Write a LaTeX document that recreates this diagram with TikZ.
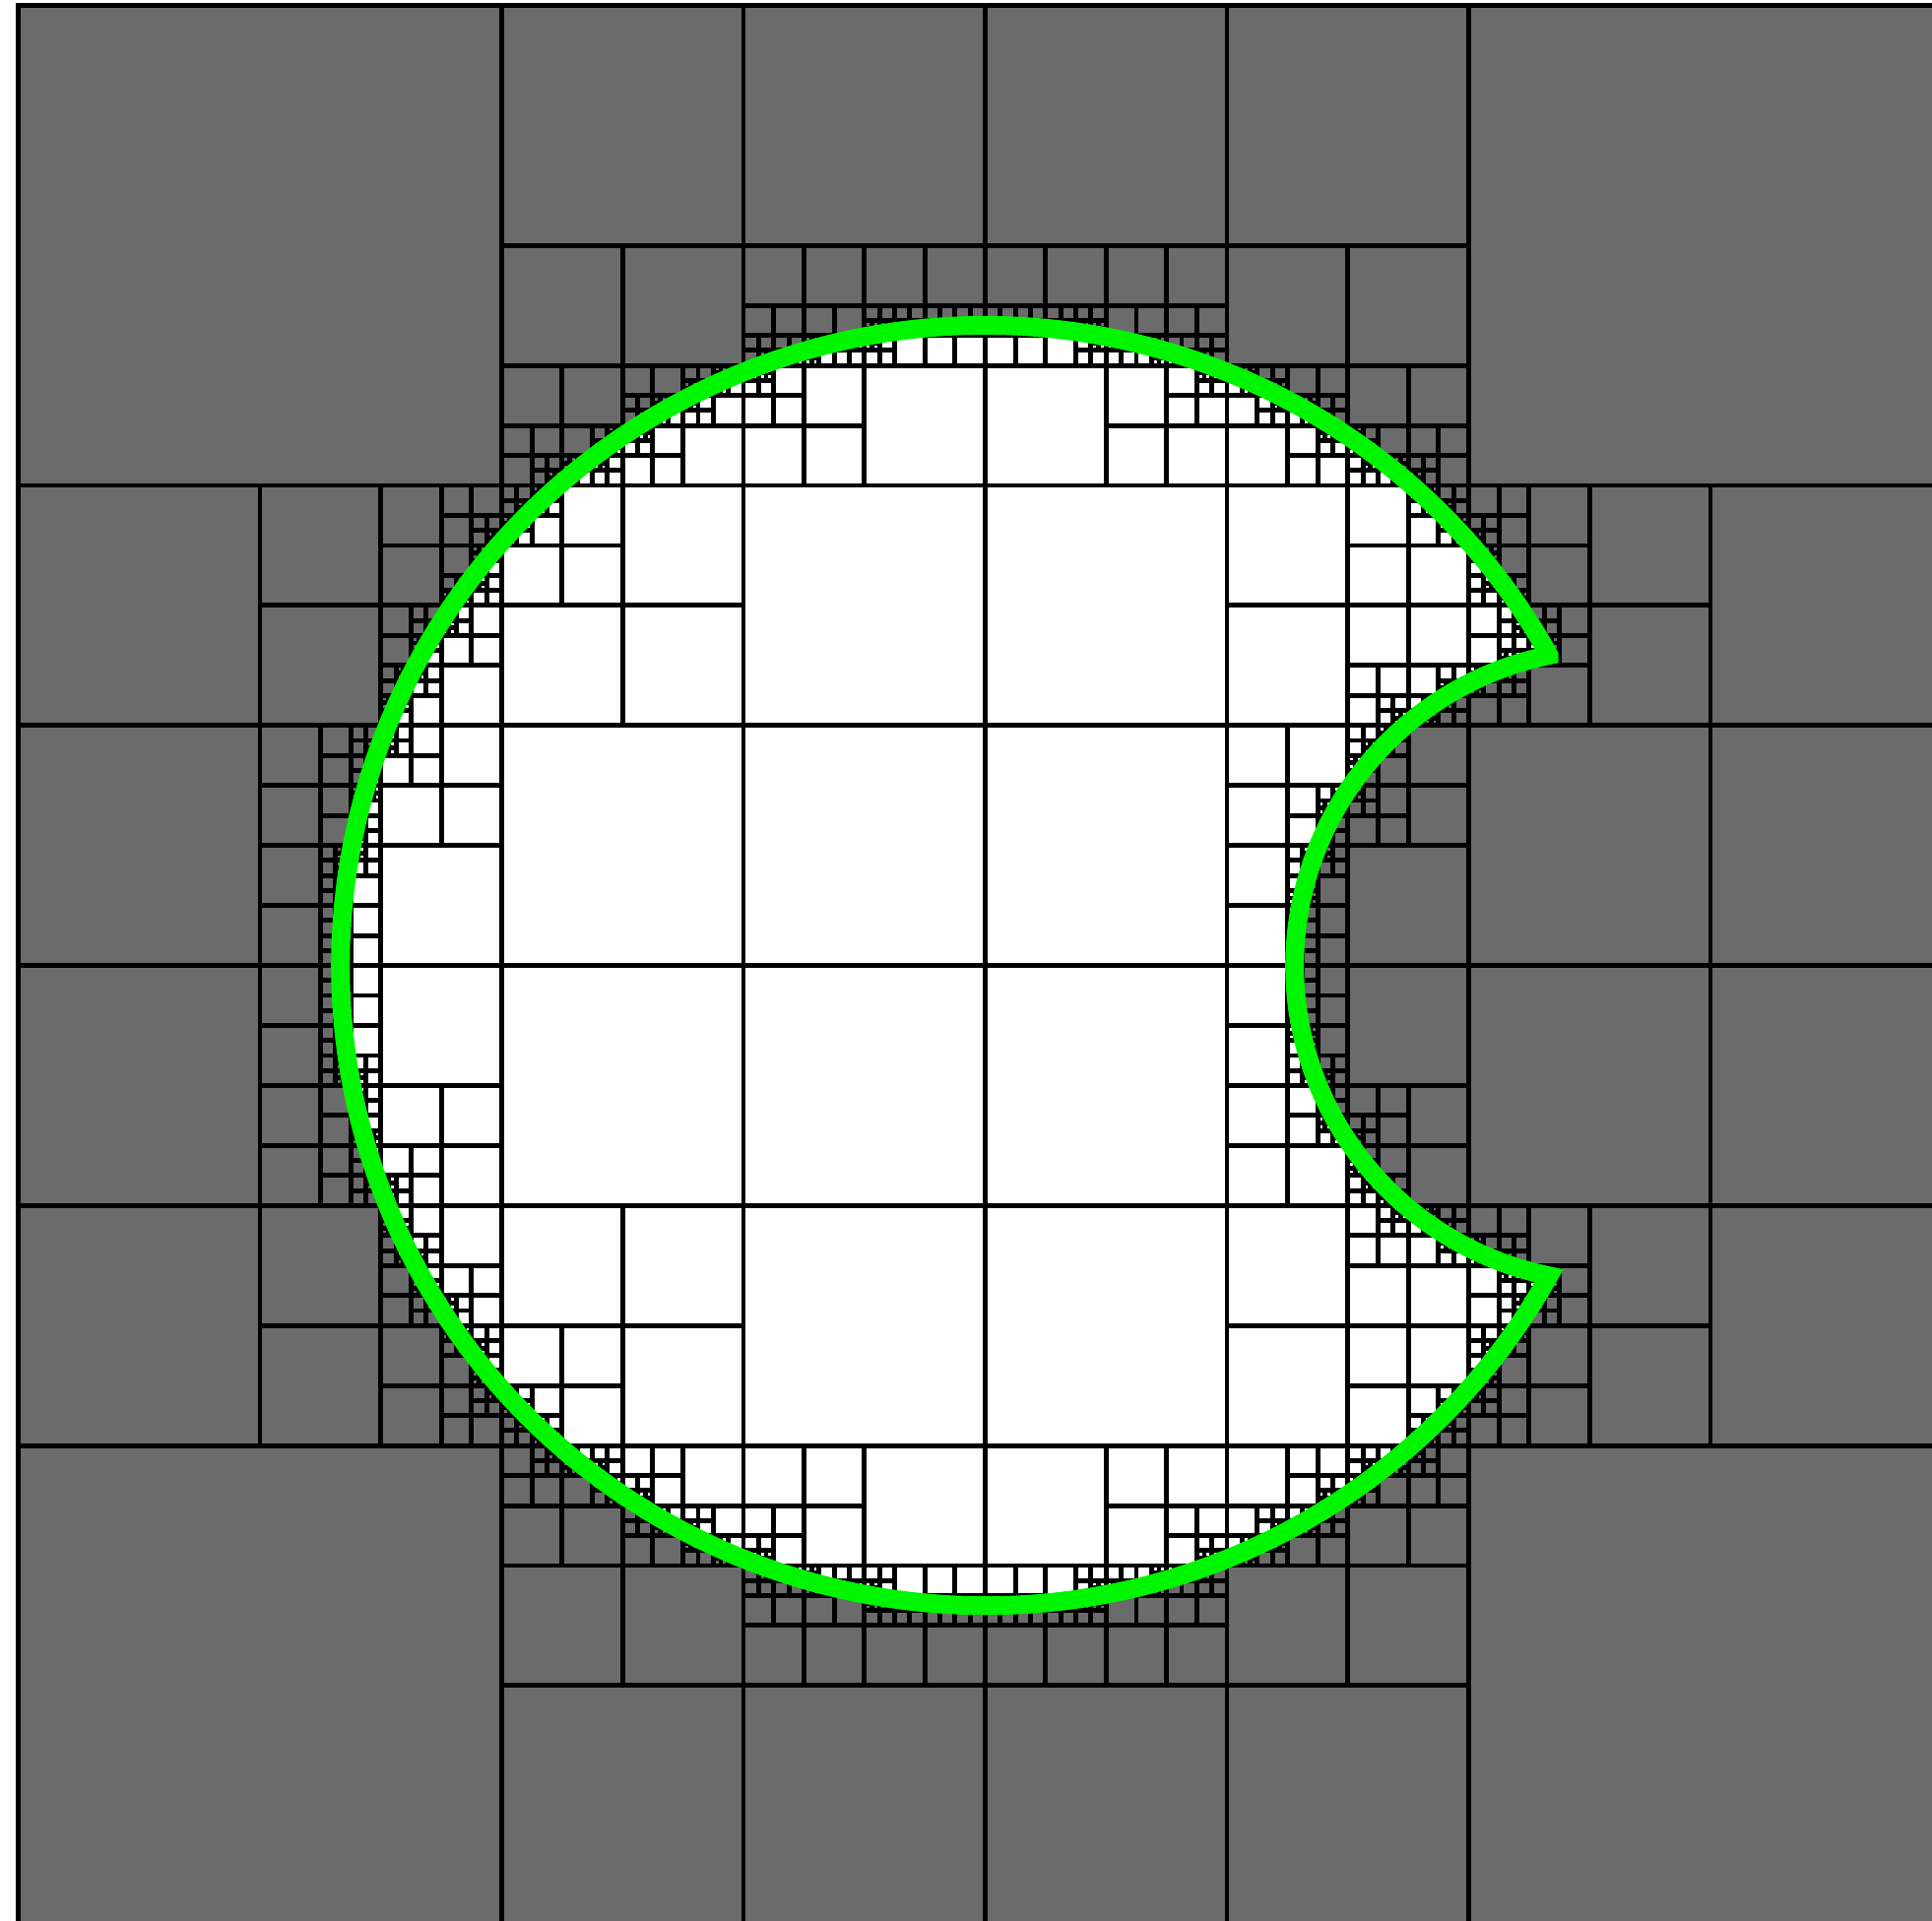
\documentclass[tikz,border=0pt]{standalone}
\newcommand{\MAXD}{8}
\newcommand{\CAX}{50}   \newcommand{\CAY}{50}  \newcommand{\RA}{33.3333}  \newcommand{\RAsq}{1111.111}
\newcommand{\CBX}{82.5} \newcommand{\CBY}{50}  \newcommand{\RB}{16.5}     \newcommand{\RBsq}{272.25}
\newcommand{\TA}{29.0}
\newcommand{\TB}{101.695}
\definecolor{qtgray}{RGB}{107,107,107}
\definecolor{qtgreen}{RGB}{0,245,0}

% one cell of the tree: x0, y0, size, depth
\newcommand{\qcell}[4]{%
  \begingroup
  \pgfmathsetmacro\qxa{#1}\pgfmathsetmacro\qya{#2}%
  \pgfmathsetmacro\qxb{#1+#3}\pgfmathsetmacro\qyb{#2+#3}%
  \ifnum#4<\MAXD\relax
    % nearest / farthest squared distance to both centres
    \pgfmathsetmacro\qdx{max(\qxa-\CAX,0,\CAX-\qxb)}\pgfmathsetmacro\qdy{max(\qya-\CAY,0,\CAY-\qyb)}%
    \pgfmathsetmacro\nA{\qdx*\qdx+\qdy*\qdy}%
    \pgfmathsetmacro\qdx{max(abs(\qxa-\CAX),abs(\qxb-\CAX))}\pgfmathsetmacro\qdy{max(abs(\qya-\CAY),abs(\qyb-\CAY))}%
    \pgfmathsetmacro\fA{\qdx*\qdx+\qdy*\qdy}%
    \pgfmathsetmacro\qdx{max(\qxa-\CBX,0,\CBX-\qxb)}\pgfmathsetmacro\qdy{max(\qya-\CBY,0,\CBY-\qyb)}%
    \pgfmathsetmacro\nB{\qdx*\qdx+\qdy*\qdy}%
    \pgfmathsetmacro\qdx{max(abs(\qxa-\CBX),abs(\qxb-\CBX))}\pgfmathsetmacro\qdy{max(abs(\qya-\CBY),abs(\qyb-\CBY))}%
    \pgfmathsetmacro\fB{\qdx*\qdx+\qdy*\qdy}%
    % 1 if the cell is all inside or all outside the shape
    \pgfmathtruncatemacro\quni{((\fA<=\RAsq)&&(\nB>=\RBsq)) || (\nA>=\RAsq) || (\fB<=\RBsq)}%
  \else
    \def\quni{1}%
  \fi
  \ifnum\quni=0
    \pgfmathsetmacro\qh{#3/2}\pgfmathtruncatemacro\qd{#4+1}%
    \pgfmathsetmacro\qxm{\qxa+\qh}\pgfmathsetmacro\qym{\qya+\qh}%
    \edef\qnext{\noexpand\qcell{\qxa}{\qya}{\qh}{\qd}\noexpand\qcell{\qxm}{\qya}{\qh}{\qd}%
      \noexpand\qcell{\qxa}{\qym}{\qh}{\qd}\noexpand\qcell{\qxm}{\qym}{\qh}{\qd}}%
    \qnext
  \else
    \draw[leaf] (\qxa,\qya) rectangle (\qxb,\qyb);
  \fi
  \endgroup}

\begin{document}
\begin{tikzpicture}[
    xscale=0.1964, yscale=0.1950,
    leaf/.style={draw=black, line width=1.4pt},
    bite/.style={draw=qtgreen, line width=5.4pt, line join=miter},
  ]

  %% ================= frame =================
  \useasboundingbox (-0.942,0.282) rectangle (98.956,100.282);
  \fill[white] (-0.942,0.282) rectangle (98.956,100.282);
  \clip (-0.942,0.282) rectangle (98.956,100.282);

  %% ================= outside grey, shape white =================
  \fill[qtgray] (0,0) rectangle (100,100);
  \fill[white] (\CAX,\CAY) ++(\TA:\RA) arc[start angle=\TA, end angle={360-\TA}, radius=\RA]
    arc[start angle={360-\TB}, end angle=\TB, radius=\RB] -- cycle;

  %% ================= the quadtree =================
  \qcell{0}{0}{100}{0}

  %% ================= boundary =================
  \draw[bite] (\CAX,\CAY) ++(\TA:\RA) arc[start angle=\TA, end angle={360-\TA}, radius=\RA]
    arc[start angle={360-\TB}, end angle=\TB, radius=\RB] -- cycle;

\end{tikzpicture}
\end{document}
